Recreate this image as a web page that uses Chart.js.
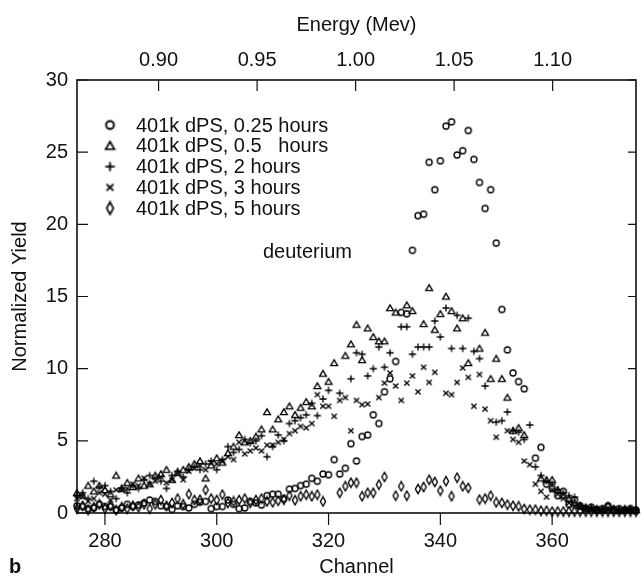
<!DOCTYPE html>
<html>
<head>
<meta charset="utf-8">
<script src="https://cdn.jsdelivr.net/npm/chart.js@4.4.1/dist/chart.umd.min.js"></script>
<style>
  html, body { margin: 0; padding: 0; background: #fff; }
</style>
</head>
<body>
<canvas id="yieldChart" width="641" height="579"></canvas>
<script>
"use strict"

// channel numbers (bottom axis), one reading per channel
const channels = [
  275, 276, 277, 278, 279, 280, 281, 282, 283, 284,
  285, 286, 287, 288, 289, 290, 291, 292, 293, 294,
  295, 296, 297, 298, 299, 300, 301, 302, 303, 304,
  305, 306, 307, 308, 309, 310, 311, 312, 313, 314,
  315, 316, 317, 318, 319, 320, 321, 322, 323, 324,
  325, 326, 327, 328, 329, 330, 331, 332, 333, 334,
  335, 336, 337, 338, 339, 340, 341, 342, 343, 344,
  345, 346, 347, 348, 349, 350, 351, 352, 353, 354,
  355, 356, 357, 358, 359, 360, 361, 362, 363, 364,
  365, 366, 367, 368, 369, 370, 371, 372, 373, 374, 375
];

// normalized yield, 401k dPS, 0.25 hours (circles)
const yield025h = [
  0.5, 0.45, 0.3, 0.35, 0.6, 0.45, 0.45, 0.2, 0.35, 0.6,
  0.45, 0.55, 0.7, 0.9, 0.8, 0.5, 0.45, 0.25, 0.5, 0.45,
  0.35, 0.6, 0.75, 0.8, 0.3, 0.45, 0.45, 0.9, 0.6, 0.3,
  0.35, 0.8, 0.7, 0.55, 1.2, 1.3, 1.3, 1.0, 1.65, 1.7,
  1.9, 2.0, 2.4, 2.2, 2.7, 2.65, 3.7, 2.7, 3.1, 4.8,
  3.6, 5.3, 5.4, 6.8, 6.2, 8.4, 9.3, 10.5, 13.9, 13.8,
  18.2, 20.6, 20.7, 24.3, 22.4, 24.4, 26.8, 27.1, 24.8, 25.1,
  26.5, 24.5, 22.9, 21.1, 22.4, 18.7, 14.1, 11.3, 9.7, 9.1,
  8.6, null, 3.8, 4.55, 2.0, 1.7, 1.2, 1.5, 0.6, 0.9,
  0.5, 0.3, 0.4, 0.2, 0.3, 0.5, 0.2, 0.3, 0.2, 0.3, 0.2
];

// 0.5 hours (triangles)
const yield05h = [
  1.4, 1.2, 1.9, 1.5, 1.9, 1.6, 1.3, 2.6, 1.7, 2.1,
  1.8, 2.4, 1.9, 2.0, 2.6, 2.7, 3.0, 2.3, 2.8, 3.0,
  3.2, 3.4, 3.6, 2.4, 3.3, 3.8, 3.5, 4.15, 4.6, 5.4,
  4.9, 5.0, 5.3, 5.8, 7.0, 5.8, 6.5, 7.0, 7.4, 6.8,
  7.3, 7.7, 7.4, 8.8, 9.66, 9.1, 10.4, null, 10.9, 11.7,
  13.05, 10.6, 12.8, 12.2, 11.9, 11.9, 14.2, 13.9, null, 14.4,
  14.0, null, 13.1, 15.6, 12.7, 13.8, 15.0, 14.0, 12.8, 13.5,
  10.4, null, 11.4, 12.5, 9.3, 10.7, 9.3, 8.0, 5.7, 5.9,
  5.4, null, null, 2.4, 2.3, 2.3, 1.6, 1.2, 1.0, 0.7,
  0.5, 0.4, 0.3, 0.3, 0.2, 0.5, 0.3, 0.2, 0.3, 0.2, 0.2
];

// 2 hours (plus)
const yield2h = [
  1.2, 1.4, 1.0, 2.2, 1.8, 1.9, 1.5, 1.0, 1.7, 1.4,
  1.9, 1.7, 2.3, 2.6, 2.4, 2.2, 1.7, 2.6, 2.9, 2.5,
  3.0, 3.2, 3.0, 3.4, 3.6, 3.0, 3.7, 4.6, 4.2, 4.4,
  5.1, 4.85, 5.0, 5.35, 3.9, 4.6, 5.4, 5.0, 6.2, 6.4,
  6.6, 6.8, 7.6, 6.75, 7.9, 8.5, null, 8.3, null, 9.3,
  11.1, 11.0, 9.5, 10.0, 11.5, 10.1, 11.1, null, 12.9, 12.9,
  11.0, 11.5, 11.5, 11.5, 13.3, 12.2, 14.2, 11.4, 13.7, 11.4,
  13.5, 11.2, 10.7, 8.8, null, 6.3, 6.4, 7.0, 5.7, 5.6,
  5.1, 6.1, 3.2, 2.6, 2.2, 2.0, 1.6, 1.4, 1.2, 1.1,
  0.5, 0.3, 0.4, 0.2, 0.3, 0.2, 0.3, 0.2, 0.2, 0.3, 0.2
];

// 3 hours (x)
const yield3h = [
  1.0, 1.15, 0.8, 1.0, 1.4, 1.3, 0.9, 1.6, 1.6, 1.7,
  2.0, 1.9, 2.4, 2.0, 2.2, 2.5, 2.1, 2.3, 2.7, 2.3,
  2.9, 3.1, 3.3, 3.0, 3.5, 3.4, 3.6, 3.9, 3.7, 4.9,
  4.1, 4.3, 4.5, 4.3, 4.7, 4.7, 4.9, 5.1, 5.5, 5.7,
  6.0, 5.9, 6.2, 8.2, 7.4, 7.4, 6.7, 7.8, 8.0, 5.7,
  7.8, 7.5, 7.55, null, 8.0, 9.0, 9.7, 8.8, 7.8, 9.0,
  9.5, 8.4, 10.1, 9.05, 9.75, null, 8.3, 8.2, 9.05, 10.05,
  9.4, 7.4, 9.6, 7.2, 6.4, 5.25, null, 5.7, 5.1, 4.9,
  3.6, 3.35, 2.0, 1.5, 1.1, 1.6, 1.3, 1.0, 0.7, 0.5,
  0.4, 0.3, 0.2, 0.3, 0.2, 0.2, 0.3, 0.1, 0.2, 0.2, 0.1
];

// 5 hours (diamonds)
const yield5h = [
  0.3, 0.5, 0.2, 0.4, 0.6, 0.3, 0.5, 0.2, 0.4, 0.3,
  0.5, 0.4, 0.6, 0.3, 0.6, 0.9, 0.5, 0.7, 1.0, 0.6,
  1.3, 0.9, 0.92, 1.6, 1.0, 0.9, 1.27, 0.7, 0.8, 0.9,
  1.0, 0.7, 0.9, 1.0, 0.8, 0.74, 0.85, 0.92, 1.2, 0.88,
  1.16, 1.27, 1.16, 1.27, 0.8, null, null, 1.4, 1.85, 2.1,
  2.1, 1.16, 1.4, 1.4, 1.97, 2.5, null, 1.2, 1.85, 1.2,
  null, 1.66, 1.8, 2.3, 2.15, 1.55, 2.2, 1.16, 2.45, 1.85,
  1.74, null, 0.93, 1.0, 1.2, 0.74, 0.7, 0.58, 0.5, 0.46,
  0.28, 0.23, 0.23, 0.16, 0.16, 0.1, 0.1, 0.1, 0.1, 0.1,
  0.1, 0.1, 0.1, 0.1, 0.1, 0.1, 0.1, 0.1, 0.1, 0.1, 0.1
];

const seriesLabels = [
  '401k dPS, 0.25 hours',
  '401k dPS, 0.5   hours',
  '401k dPS, 2 hours',
  '401k dPS, 3 hours',
  '401k dPS, 5 hours'
];
const seriesMarkers = ['circle', 'triangle', 'plus', 'cross', 'diamond'];

const channelTicks = [280, 300, 320, 340, 360];
const yieldTicks = [0, 5, 10, 15, 20, 25, 30];
const energyTicks = [0.90, 0.95, 1.00, 1.05, 1.10];
// energy at the left and right edge of the plot (channel 275 and 375)
const energyRange = [0.8586, 1.1423];

const ink = '#000';
const fontFamily = "'Liberation Sans', Arial, Helvetica, sans-serif";

function makeMarker(kind) {
  let c = document.createElement('canvas');
  c.width = 10;
  c.height = kind == 'diamond' ? 12 : 10;
  let g = c.getContext('2d');
  let cx = c.width / 2, cy = c.height / 2;
  g.strokeStyle = ink;
  g.lineWidth = 1.35;
  g.beginPath();
  if (kind == 'circle') {
    g.arc(cx, cy, 3, 0, Math.PI * 2);
  } else if (kind == 'triangle') {
    g.moveTo(cx, cy - 3.2); g.lineTo(cx + 3.4, cy + 2.6); g.lineTo(cx - 3.4, cy + 2.6); g.closePath();
  } else if (kind == 'plus') {
    g.moveTo(cx - 3.6, cy); g.lineTo(cx + 3.6, cy);
    g.moveTo(cx, cy - 3.6); g.lineTo(cx, cy + 3.6);
  } else if (kind == 'cross') {
    g.moveTo(cx - 2.6, cy - 2.6); g.lineTo(cx + 2.6, cy + 2.6);
    g.moveTo(cx + 2.6, cy - 2.6); g.lineTo(cx - 2.6, cy + 2.6);
  } else {
    g.moveTo(cx, cy - 4.6); g.lineTo(cx + 2.6, cy); g.lineTo(cx, cy + 4.6); g.lineTo(cx - 2.6, cy); g.closePath();
  }
  g.stroke();
  return c;
}

function toPoints(values) {
  return channels.map((ch, i) => ({x: ch, y: values[i]})).filter(p => p.y != null);
}

const allSeries = [yield025h, yield05h, yield2h, yield3h, yield5h];

const datasets = allSeries.map((vals, i) => ({
  label: seriesLabels[i],
  data: toPoints(vals),
  pointStyle: makeMarker(seriesMarkers[i]),
  pointRadius: 3,
  showLine: false,
  clip: false,
  xAxisID: 'x',
  yAxisID: 'y'
}));

// frame, inward tick marks, legend and the text notes
const decorations = {
  id: 'decorations',
  beforeDatasetsDraw(chart) {
    const {ctx, chartArea: a, scales} = chart;
    ctx.save();
    ctx.strokeStyle = '#111';
    ctx.lineWidth = 1.6;
    ctx.strokeRect(a.left, a.top, a.right - a.left, a.bottom - a.top);
    ctx.lineWidth = 1.2;
    ctx.beginPath();
    scales.y.ticks.forEach(t => {
      let y = scales.y.getPixelForValue(t.value);
      ctx.moveTo(a.left, y); ctx.lineTo(a.left + 11, y);
      ctx.moveTo(a.right, y); ctx.lineTo(a.right - 8, y);
    });
    scales.x.ticks.forEach(t => {
      let x = scales.x.getPixelForValue(t.value);
      ctx.moveTo(x, a.bottom); ctx.lineTo(x, a.bottom + 12);
    });
    scales.xTop.ticks.forEach(t => {
      let x = scales.xTop.getPixelForValue(t.value);
      ctx.moveTo(x, a.top); ctx.lineTo(x, a.top + 11);
    });
    ctx.stroke();
    ctx.restore();
  },
  afterDatasetsDraw(chart) {
    const {ctx} = chart;
    ctx.save();
    ctx.fillStyle = '#111';
    ctx.font = '20px ' + fontFamily;
    ctx.textBaseline = 'middle';
    chart.data.datasets.forEach((ds, i) => {
      let y = 125 + i * 20.8;
      let m = ds.pointStyle;
      ctx.drawImage(m, 110 - m.width * 0.65, y - m.height * 0.65, m.width * 1.3, m.height * 1.3);
      ctx.fillText(ds.label, 136, y + 1);
    });
    ctx.fillText('deuterium', 263, 252);
    ctx.font = 'bold 20px ' + fontFamily;
    ctx.fillText('b', 9, 567);
    ctx.restore();
  }
};

const tickFont = {family: fontFamily, size: 20};

new Chart(document.getElementById('yieldChart'), {
  type: 'scatter',
  data: {datasets: datasets},
  plugins: [decorations],
  options: {
    responsive: false,
    animation: false,
    devicePixelRatio: 1,
    layout: {padding: {right: 3}},
    plugins: {legend: {display: false}, tooltip: {enabled: false}},
    scales: {
      x: {
        type: 'linear',
        position: 'bottom',
        min: 275,
        max: 375,
        afterBuildTicks: s => { s.ticks = channelTicks.map(v => ({value: v})); },
        afterFit: s => { s.height = 66; },
        grid: {display: false, drawTicks: false},
        border: {display: false},
        ticks: {font: tickFont, color: '#111', padding: 16, maxRotation: 0},
        title: {display: true, text: 'Channel', font: tickFont, color: '#111', padding: {top: 0, bottom: 0}}
      },
      xTop: {
        type: 'linear',
        axis: 'x',
        position: 'top',
        min: energyRange[0],
        max: energyRange[1],
        afterBuildTicks: s => { s.ticks = energyTicks.map(v => ({value: v})); },
        afterFit: s => { s.height = 80; },
        grid: {display: false, drawTicks: false},
        border: {display: false},
        ticks: {font: tickFont, color: '#111', padding: 8, maxRotation: 0, callback: v => v.toFixed(2)},
        title: {display: true, text: 'Energy (Mev)', font: tickFont, color: '#111', padding: {top: 13, bottom: 0}}
      },
      y: {
        type: 'linear',
        position: 'left',
        min: 0,
        max: 30,
        afterBuildTicks: s => { s.ticks = yieldTicks.map(v => ({value: v})); },
        afterFit: s => { s.width = 77; },
        grid: {display: false, drawTicks: false},
        border: {display: false},
        ticks: {font: tickFont, color: '#111', padding: 9},
        title: {display: true, text: 'Normalized Yield', font: tickFont, color: '#111', padding: {top: 8, bottom: 0}}
      }
    }
  }
});
</script>
</body>
</html>
